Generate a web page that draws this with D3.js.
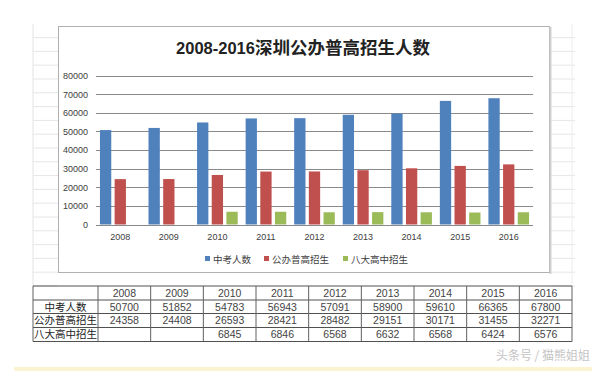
<!DOCTYPE html>
<html><head><meta charset="utf-8">
<script src="https://cdn.jsdelivr.net/npm/d3@7"></script>
<style>body{margin:0;background:#fff}svg{display:block}</style>
</head><body>
<svg id="c" width="600" height="371"></svg>
<script>
const years = ["2008","2009","2010","2011","2012","2013","2014","2015","2016"];
const seriesNames = ["中考人数","公办普高招生","八大高中招生"];
const zhongkao = [50700,51852,54783,56943,57091,58900,59610,66365,67800];
const gongban = [24358,24408,26593,28421,28482,29151,30171,31455,32271];
const bada = [null,null,6845,6846,6568,6632,6568,6424,6576];
const colors = ["#4f81bd","#c0504d","#9bbb59"];
const yTicks = [0,10000,20000,30000,40000,50000,60000,70000,80000];
const titleText = ["2008-2016","深圳公办普高招生人数"];
const watermark = "头条号 / 猫熊姐姐";

const svg = d3.select("#c");
const values = [zhongkao, gongban, bada];

// spreadsheet background grid
const bg = svg.append("g");
const rowH = 13.8;
for (let k = 0; k <= 18; k++) {
  const yy = 286 - k * rowH;
  bg.append("line").attr("x1",33).attr("x2",58).attr("y1",yy).attr("y2",yy).attr("stroke","#e6e6e6");
  bg.append("line").attr("x1",551).attr("x2",575).attr("y1",yy).attr("y2",yy).attr("stroke","#e6e6e6");
}
bg.append("line").attr("x1",33).attr("x2",33).attr("y1",24).attr("y2",286).attr("stroke","#e3e3e3");
bg.append("line").attr("x1",572).attr("x2",572).attr("y1",24).attr("y2",286).attr("stroke","#ececec");
// bottom yellow strip
svg.append("rect").attr("x",14).attr("y",367).attr("width",578).attr("height",4).attr("fill","#fbf3d2");

// chart box
svg.append("rect").attr("x",58.5).attr("y",26.5).attr("width",491).attr("height",246)
  .attr("fill","#fff").attr("stroke","#b0b0b0");
svg.append("line").attr("x1",550.5).attr("x2",550.5).attr("y1",27).attr("y2",274).attr("stroke","#d0d0d0").attr("stroke-width",2);

// title
const t = svg.append("text").attr("x",303).attr("y",54).attr("text-anchor","middle")
  .attr("fill","#222").attr("font-weight","bold");
t.append("tspan").text(titleText[0]).attr("font-family","Liberation Sans, Arial, sans-serif").attr("font-size",16.5);
t.append("tspan").text(titleText[1]).attr("font-family","Noto Sans CJK SC, sans-serif").attr("font-size",17.5);

// scales
const x0 = d3.scaleBand().domain(years).range([96,533]).padding(0);
const x1 = d3.scaleBand().domain(seriesNames).range([0, x0.bandwidth()]).paddingInner(0.23).paddingOuter(0.27);
const y = d3.scaleLinear().domain([0,80000]).range([224.5,75.5]);

// gridlines
const g = svg.append("g");
g.selectAll("line.grid").data(yTicks).join("line")
  .attr("x1",96).attr("x2",533)
  .attr("y1",d=>Math.round(y(d))+0.5).attr("y2",d=>Math.round(y(d))+0.5)
  .attr("stroke","#8a8a8a").attr("stroke-width",1);

// y axis labels
const yAxis = d3.axisLeft(y).tickValues(yTicks).tickSize(0).tickPadding(0).tickFormat(d3.format("d"));
const ya = svg.append("g").attr("transform","translate(88,0)").call(yAxis);
ya.select(".domain").remove();
ya.selectAll("text").attr("font-family","Liberation Sans, Arial, sans-serif").attr("font-size",9).attr("fill","#404040");

// x axis labels
const xAxis = d3.axisBottom(x0).tickSize(0).tickPadding(0);
const xa = svg.append("g").attr("transform","translate(0,234)").call(xAxis);
xa.select(".domain").remove();
xa.selectAll("text").attr("font-family","Liberation Sans, Arial, sans-serif").attr("font-size",9).attr("fill","#404040");

// bars
const bars = svg.append("g");
years.forEach((yr, i) => {
  seriesNames.forEach((s, j) => {
    const v = values[j][i];
    if (v == null) return;
    bars.append("rect")
      .attr("x", x0(yr) + x1(s))
      .attr("width", x1.bandwidth())
      .attr("y", y(v))
      .attr("height", y(0) - y(v))
      .attr("fill", colors[j]);
  });
});

// legend
const legendX = [205, 264, 343];
const lg = svg.append("g");
seriesNames.forEach((s, j) => {
  lg.append("rect").attr("x",legendX[j]).attr("y",256).attr("width",5).attr("height",5).attr("fill",colors[j]);
  lg.append("text").attr("x",legendX[j]+8).attr("y",262.5).text(s)
    .attr("font-family","Noto Sans CJK SC, sans-serif").attr("font-size",9.5).attr("fill","#404040");
});

// data table
const tableLeft = 33, firstColW = 65, tableRight = 572;
const rowsY = [286, 300, 313.5, 327.5, 341.5];
const cx = d3.scaleBand().domain(years).range([tableLeft+firstColW, tableRight]);
const tb = svg.append("g");
rowsY.forEach(ry => tb.append("line").attr("x1",tableLeft).attr("x2",tableRight)
  .attr("y1",ry).attr("y2",ry).attr("stroke","#505050"));
const colEdges = [tableLeft, tableLeft+firstColW].concat(years.map(yr => cx(yr)+cx.bandwidth()));
colEdges.forEach(xe => tb.append("line").attr("x1",xe).attr("x2",xe)
  .attr("y1",rowsY[0]).attr("y2",rowsY[4]).attr("stroke","#606060"));
const tfont = "Liberation Sans, Noto Sans CJK SC, sans-serif";
years.forEach(yr => tb.append("text").attr("x",cx(yr)+cx.bandwidth()/2).attr("y",297)
  .attr("text-anchor","middle").text(yr).attr("font-family",tfont).attr("font-size",10.5).attr("fill","#444"));
const rowAnchors = ["middle","middle","start"];
seriesNames.forEach((s, j) => {
  const ry = rowsY[j+1] + 10.5;
  tb.append("text").attr("x", rowAnchors[j]==="middle" ? tableLeft+firstColW/2 : tableLeft+1)
    .attr("y", ry).attr("text-anchor", rowAnchors[j]).text(s)
    .attr("font-family","Noto Sans CJK SC, sans-serif").attr("font-size",10.5).attr("fill","#222");
  years.forEach((yr, i) => {
    const v = values[j][i];
    if (v == null) return;
    tb.append("text").attr("x",cx(yr)+cx.bandwidth()/2).attr("y",ry)
      .attr("text-anchor","middle").text(v).attr("font-family",tfont).attr("font-size",10.5).attr("fill","#444");
  });
});

// watermark
svg.append("text").attr("x",590).attr("y",360).attr("text-anchor","end").text(watermark)
  .attr("font-family","Noto Sans CJK SC, sans-serif").attr("font-size",12).attr("fill","#c4c4c4");
</script>
</body></html>
